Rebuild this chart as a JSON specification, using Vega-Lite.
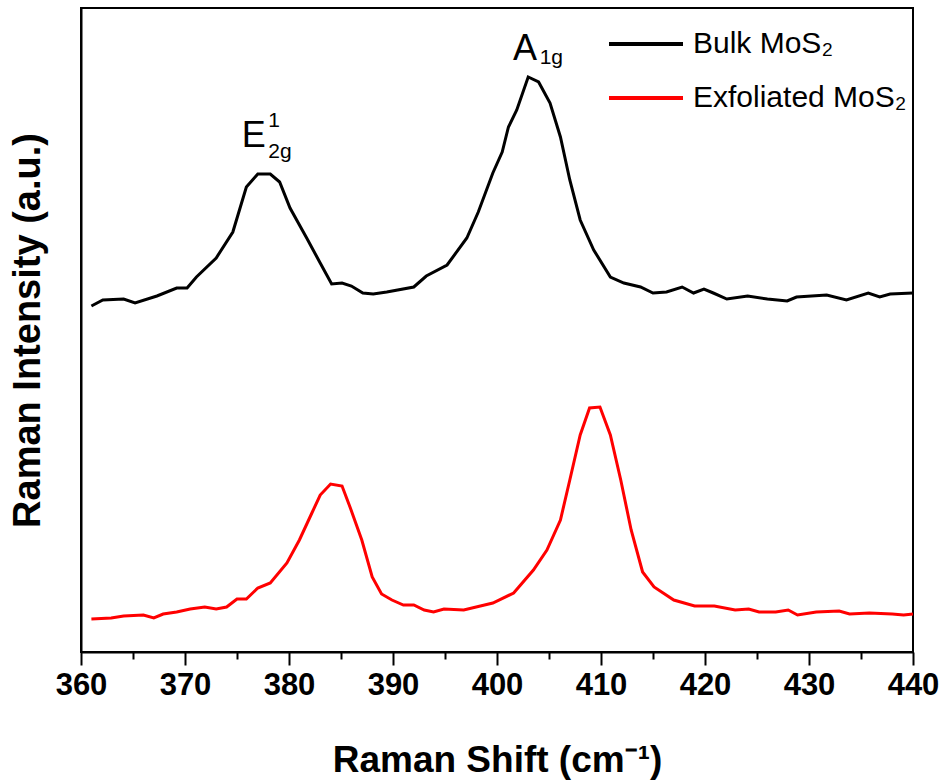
{
  "$schema": "https://vega.github.io/schema/vega-lite/v6.json",
  "width": 832,
  "height": 644,
  "autosize": {"type": "none"},
  "padding": {"left": 81, "top": 8, "right": 32, "bottom": 130},
  "background": "white",
  "config": {
    "font": "Liberation Sans",
    "view": {"stroke": "black", "strokeWidth": 2}
  },
  "datasets": {
    "spectra": [
      {"shift": 361.0, "intensity": 346, "sample": "Bulk MoS₂"},
      {"shift": 362.1, "intensity": 352, "sample": "Bulk MoS₂"},
      {"shift": 364.1, "intensity": 353, "sample": "Bulk MoS₂"},
      {"shift": 365.2, "intensity": 349, "sample": "Bulk MoS₂"},
      {"shift": 367.3, "intensity": 356, "sample": "Bulk MoS₂"},
      {"shift": 369.2, "intensity": 364, "sample": "Bulk MoS₂"},
      {"shift": 370.2, "intensity": 364, "sample": "Bulk MoS₂"},
      {"shift": 371.1, "intensity": 375, "sample": "Bulk MoS₂"},
      {"shift": 373.0, "intensity": 394, "sample": "Bulk MoS₂"},
      {"shift": 374.6, "intensity": 420, "sample": "Bulk MoS₂"},
      {"shift": 375.9, "intensity": 465, "sample": "Bulk MoS₂"},
      {"shift": 377.0, "intensity": 478, "sample": "Bulk MoS₂"},
      {"shift": 378.2, "intensity": 478, "sample": "Bulk MoS₂"},
      {"shift": 379.1, "intensity": 470, "sample": "Bulk MoS₂"},
      {"shift": 380.1, "intensity": 444, "sample": "Bulk MoS₂"},
      {"shift": 381.7, "intensity": 414, "sample": "Bulk MoS₂"},
      {"shift": 383.0, "intensity": 389, "sample": "Bulk MoS₂"},
      {"shift": 384.1, "intensity": 368, "sample": "Bulk MoS₂"},
      {"shift": 385.1, "intensity": 369, "sample": "Bulk MoS₂"},
      {"shift": 386.0, "intensity": 366, "sample": "Bulk MoS₂"},
      {"shift": 387.1, "intensity": 359, "sample": "Bulk MoS₂"},
      {"shift": 388.1, "intensity": 358, "sample": "Bulk MoS₂"},
      {"shift": 389.4, "intensity": 360, "sample": "Bulk MoS₂"},
      {"shift": 392.0, "intensity": 365, "sample": "Bulk MoS₂"},
      {"shift": 393.2, "intensity": 376, "sample": "Bulk MoS₂"},
      {"shift": 395.2, "intensity": 387, "sample": "Bulk MoS₂"},
      {"shift": 397.1, "intensity": 414, "sample": "Bulk MoS₂"},
      {"shift": 398.2, "intensity": 440, "sample": "Bulk MoS₂"},
      {"shift": 399.6, "intensity": 479, "sample": "Bulk MoS₂"},
      {"shift": 400.5, "intensity": 500, "sample": "Bulk MoS₂"},
      {"shift": 401.1, "intensity": 525, "sample": "Bulk MoS₂"},
      {"shift": 401.9, "intensity": 542, "sample": "Bulk MoS₂"},
      {"shift": 403.0, "intensity": 575, "sample": "Bulk MoS₂"},
      {"shift": 404.0, "intensity": 570, "sample": "Bulk MoS₂"},
      {"shift": 405.1, "intensity": 549, "sample": "Bulk MoS₂"},
      {"shift": 406.1, "intensity": 515, "sample": "Bulk MoS₂"},
      {"shift": 407.0, "intensity": 472, "sample": "Bulk MoS₂"},
      {"shift": 408.0, "intensity": 432, "sample": "Bulk MoS₂"},
      {"shift": 409.3, "intensity": 402, "sample": "Bulk MoS₂"},
      {"shift": 410.9, "intensity": 375, "sample": "Bulk MoS₂"},
      {"shift": 412.2, "intensity": 369, "sample": "Bulk MoS₂"},
      {"shift": 413.8, "intensity": 365, "sample": "Bulk MoS₂"},
      {"shift": 415.0, "intensity": 359, "sample": "Bulk MoS₂"},
      {"shift": 416.3, "intensity": 360, "sample": "Bulk MoS₂"},
      {"shift": 417.8, "intensity": 365, "sample": "Bulk MoS₂"},
      {"shift": 418.9, "intensity": 359, "sample": "Bulk MoS₂"},
      {"shift": 419.9, "intensity": 363, "sample": "Bulk MoS₂"},
      {"shift": 420.8, "intensity": 359, "sample": "Bulk MoS₂"},
      {"shift": 422.1, "intensity": 353, "sample": "Bulk MoS₂"},
      {"shift": 424.1, "intensity": 356, "sample": "Bulk MoS₂"},
      {"shift": 426.0, "intensity": 353, "sample": "Bulk MoS₂"},
      {"shift": 427.9, "intensity": 351, "sample": "Bulk MoS₂"},
      {"shift": 428.8, "intensity": 355, "sample": "Bulk MoS₂"},
      {"shift": 431.7, "intensity": 357, "sample": "Bulk MoS₂"},
      {"shift": 433.6, "intensity": 352, "sample": "Bulk MoS₂"},
      {"shift": 435.7, "intensity": 359, "sample": "Bulk MoS₂"},
      {"shift": 436.8, "intensity": 355, "sample": "Bulk MoS₂"},
      {"shift": 437.8, "intensity": 358, "sample": "Bulk MoS₂"},
      {"shift": 440.0, "intensity": 359, "sample": "Bulk MoS₂"},

      {"shift": 361.0, "intensity": 33, "sample": "Exfoliated MoS₂"},
      {"shift": 362.9, "intensity": 34, "sample": "Exfoliated MoS₂"},
      {"shift": 364.1, "intensity": 36, "sample": "Exfoliated MoS₂"},
      {"shift": 366.0, "intensity": 37, "sample": "Exfoliated MoS₂"},
      {"shift": 367.0, "intensity": 34, "sample": "Exfoliated MoS₂"},
      {"shift": 367.9, "intensity": 38, "sample": "Exfoliated MoS₂"},
      {"shift": 369.2, "intensity": 40, "sample": "Exfoliated MoS₂"},
      {"shift": 370.5, "intensity": 43, "sample": "Exfoliated MoS₂"},
      {"shift": 371.9, "intensity": 45, "sample": "Exfoliated MoS₂"},
      {"shift": 373.0, "intensity": 43, "sample": "Exfoliated MoS₂"},
      {"shift": 374.0, "intensity": 45, "sample": "Exfoliated MoS₂"},
      {"shift": 375.0, "intensity": 53, "sample": "Exfoliated MoS₂"},
      {"shift": 375.9, "intensity": 53, "sample": "Exfoliated MoS₂"},
      {"shift": 377.0, "intensity": 64, "sample": "Exfoliated MoS₂"},
      {"shift": 378.2, "intensity": 69, "sample": "Exfoliated MoS₂"},
      {"shift": 379.8, "intensity": 89, "sample": "Exfoliated MoS₂"},
      {"shift": 381.0, "intensity": 112, "sample": "Exfoliated MoS₂"},
      {"shift": 382.2, "intensity": 139, "sample": "Exfoliated MoS₂"},
      {"shift": 383.0, "intensity": 157, "sample": "Exfoliated MoS₂"},
      {"shift": 384.0, "intensity": 168, "sample": "Exfoliated MoS₂"},
      {"shift": 385.1, "intensity": 166, "sample": "Exfoliated MoS₂"},
      {"shift": 385.9, "intensity": 144, "sample": "Exfoliated MoS₂"},
      {"shift": 387.0, "intensity": 112, "sample": "Exfoliated MoS₂"},
      {"shift": 388.0, "intensity": 75, "sample": "Exfoliated MoS₂"},
      {"shift": 388.9, "intensity": 58, "sample": "Exfoliated MoS₂"},
      {"shift": 389.9, "intensity": 52, "sample": "Exfoliated MoS₂"},
      {"shift": 391.0, "intensity": 47, "sample": "Exfoliated MoS₂"},
      {"shift": 392.0, "intensity": 47, "sample": "Exfoliated MoS₂"},
      {"shift": 393.0, "intensity": 42, "sample": "Exfoliated MoS₂"},
      {"shift": 393.9, "intensity": 40, "sample": "Exfoliated MoS₂"},
      {"shift": 394.9, "intensity": 43, "sample": "Exfoliated MoS₂"},
      {"shift": 396.8, "intensity": 42, "sample": "Exfoliated MoS₂"},
      {"shift": 398.4, "intensity": 46, "sample": "Exfoliated MoS₂"},
      {"shift": 399.6, "intensity": 49, "sample": "Exfoliated MoS₂"},
      {"shift": 401.6, "intensity": 59, "sample": "Exfoliated MoS₂"},
      {"shift": 403.5, "intensity": 82, "sample": "Exfoliated MoS₂"},
      {"shift": 404.8, "intensity": 102, "sample": "Exfoliated MoS₂"},
      {"shift": 406.1, "intensity": 132, "sample": "Exfoliated MoS₂"},
      {"shift": 407.0, "intensity": 172, "sample": "Exfoliated MoS₂"},
      {"shift": 408.0, "intensity": 217, "sample": "Exfoliated MoS₂"},
      {"shift": 408.9, "intensity": 244, "sample": "Exfoliated MoS₂"},
      {"shift": 409.9, "intensity": 245, "sample": "Exfoliated MoS₂"},
      {"shift": 410.9, "intensity": 217, "sample": "Exfoliated MoS₂"},
      {"shift": 411.9, "intensity": 172, "sample": "Exfoliated MoS₂"},
      {"shift": 412.9, "intensity": 122, "sample": "Exfoliated MoS₂"},
      {"shift": 414.0, "intensity": 80, "sample": "Exfoliated MoS₂"},
      {"shift": 415.1, "intensity": 65, "sample": "Exfoliated MoS₂"},
      {"shift": 417.0, "intensity": 52, "sample": "Exfoliated MoS₂"},
      {"shift": 419.0, "intensity": 46, "sample": "Exfoliated MoS₂"},
      {"shift": 420.9, "intensity": 46, "sample": "Exfoliated MoS₂"},
      {"shift": 422.9, "intensity": 42, "sample": "Exfoliated MoS₂"},
      {"shift": 424.2, "intensity": 43, "sample": "Exfoliated MoS₂"},
      {"shift": 425.2, "intensity": 40, "sample": "Exfoliated MoS₂"},
      {"shift": 426.8, "intensity": 40, "sample": "Exfoliated MoS₂"},
      {"shift": 428.0, "intensity": 42, "sample": "Exfoliated MoS₂"},
      {"shift": 428.9, "intensity": 37, "sample": "Exfoliated MoS₂"},
      {"shift": 430.7, "intensity": 40, "sample": "Exfoliated MoS₂"},
      {"shift": 432.9, "intensity": 41, "sample": "Exfoliated MoS₂"},
      {"shift": 433.9, "intensity": 38, "sample": "Exfoliated MoS₂"},
      {"shift": 435.8, "intensity": 39, "sample": "Exfoliated MoS₂"},
      {"shift": 438.0, "intensity": 38, "sample": "Exfoliated MoS₂"},
      {"shift": 439.1, "intensity": 37, "sample": "Exfoliated MoS₂"},
      {"shift": 440.0, "intensity": 38, "sample": "Exfoliated MoS₂"}
    ],
    "peakSymbols": [
      {"shift": 376.6, "intensity": 505, "label": "E"},
      {"shift": 402.7, "intensity": 592, "label": "A"}
    ],
    "peakScripts": [
      {"shift": 378.0, "intensity": 525, "label": "1"},
      {"shift": 378.0, "intensity": 494, "label": "2g"},
      {"shift": 404.1, "intensity": 588, "label": "1g"}
    ]
  },
  "layer": [
    {
      "data": {"name": "spectra"},
      "mark": {"type": "line", "strokeWidth": 3, "interpolate": "linear"},
      "encoding": {
        "x": {
          "field": "shift",
          "type": "quantitative",
          "scale": {"domain": [360, 440], "nice": false, "zero": false},
          "axis": {
            "values": [360, 365, 370, 375, 380, 385, 390, 395, 400, 405, 410, 415, 420, 425, 430, 435, 440],
            "labelExpr": "datum.value % 10 === 0 ? datum.label : ''",
            "grid": false,
            "domainColor": "black",
            "domainWidth": 2,
            "tickColor": "black",
            "tickWidth": 2,
            "tickSize": {"condition": {"test": "datum.value % 10 === 0", "value": 13}, "value": 7},
            "labelFont": "Liberation Sans",
            "labelFontSize": 31,
            "labelFontWeight": "bold",
            "labelColor": "black",
            "labelPadding": 5,
            "labelFlush": false,
            "labelOverlap": false,
            "title": "Raman Shift (cm⁻¹)",
            "titleFont": "Liberation Sans",
            "titleFontSize": 37,
            "titleFontWeight": "bold",
            "titleColor": "black",
            "titlePadding": 42
          }
        },
        "y": {
          "field": "intensity",
          "type": "quantitative",
          "scale": {"domain": [0, 644], "nice": false, "zero": false},
          "axis": {
            "labels": false,
            "ticks": false,
            "grid": false,
            "domainColor": "black",
            "domainWidth": 2,
            "title": "Raman Intensity (a.u.)",
            "titleFont": "Liberation Sans",
            "titleFontSize": 38,
            "titleFontWeight": "bold",
            "titleColor": "black",
            "titlePadding": 34
          }
        },
        "color": {
          "field": "sample",
          "type": "nominal",
          "scale": {"domain": ["Bulk MoS₂", "Exfoliated MoS₂"], "range": ["#000000", "#ff0000"]},
          "legend": {
            "title": null,
            "orient": "none",
            "legendX": 526,
            "legendY": -3,
            "padding": 0,
            "symbolType": "stroke",
            "symbolSize": 5476,
            "symbolStrokeWidth": 4,
            "labelFont": "Liberation Sans",
            "labelFontSize": 30,
            "labelColor": "black",
            "labelOffset": 8,
            "rowPadding": -15,
            "labelLimit": 400
          }
        }
      }
    },
    {
      "data": {"name": "peakSymbols"},
      "mark": {"type": "text", "fontSize": 36, "font": "Liberation Sans", "color": "black", "align": "center", "baseline": "alphabetic"},
      "encoding": {
        "x": {"field": "shift", "type": "quantitative"},
        "y": {"field": "intensity", "type": "quantitative"},
        "text": {"field": "label"}
      }
    },
    {
      "data": {"name": "peakScripts"},
      "mark": {"type": "text", "fontSize": 21, "font": "Liberation Sans", "color": "black", "align": "left", "baseline": "alphabetic"},
      "encoding": {
        "x": {"field": "shift", "type": "quantitative"},
        "y": {"field": "intensity", "type": "quantitative"},
        "text": {"field": "label"}
      }
    }
  ]
}
